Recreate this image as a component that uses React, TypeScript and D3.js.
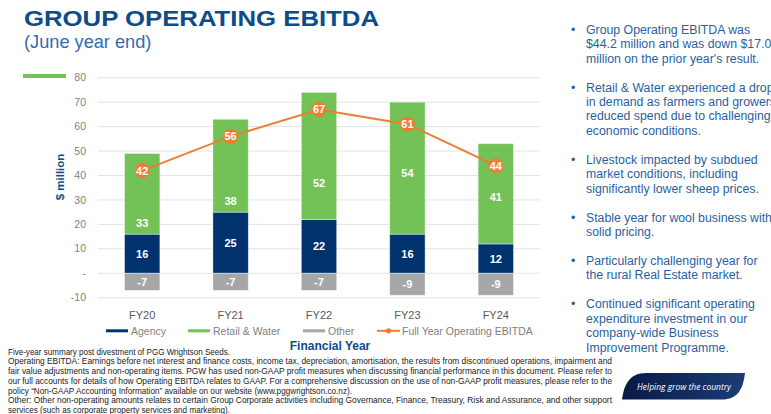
import React from "react";
import * as d3 from "d3";

const years = ["FY20", "FY21", "FY22", "FY23", "FY24"];
const agency = [16, 25, 22, 16, 12];
const retailWater = [33, 38, 52, 54, 41];
const other = [-7, -7, -7, -9, -9];
const ebitda = [42, 56, 67, 61, 44];
// value at which each Retail & Water data label sits
const retailLabelAt = [20.5, 29.7, 37, 41.2, 31.1];
const yTicks = [-10, 0, 10, 20, 30, 40, 50, 60, 70, 80];

const bullets = [
  ["Group Operating EBITDA was", "$44.2 million and was down $17.0", "million on the prior year's result."],
  ["Retail & Water experienced a drop", "in demand as farmers and growers", "reduced spend due to challenging", "economic conditions."],
  ["Livestock impacted by subdued", "market conditions, including", "significantly lower sheep prices."],
  ["Stable year for wool business with", "solid pricing."],
  ["Particularly challenging year for", "the rural Real Estate market."],
  ["Continued significant operating", "expenditure investment in our", "company-wide Business", "Improvement Programme."],
];

const footnotes = [
  "Five-year summary post divestment of PGG Wrightson Seeds.",
  "Operating EBITDA: Earnings before net interest and finance costs, income tax, depreciation, amortisation, the results from discontinued operations, impairment and",
  "fair value adjustments and non-operating items. PGW has used non-GAAP profit measures when discussing financial performance in this document. Please refer to",
  "our full accounts for details of how Operating EBITDA relates to GAAP. For a comprehensive discussion on the use of non-GAAP profit measures, please refer to the",
  "policy \u201cNon-GAAP Accounting Information\u201d available on our website (www.pggwrightson.co.nz).",
  "Other: Other non-operating amounts relates to certain Group Corporate activities including Governance, Finance, Treasury, Risk and Assurance, and other support",
  "services (such as corporate property services and marketing).",
];
const footWidths = [222, 604, 604, 604, 344, 604, 222];

const C_AGENCY = "#00326E";
const C_RETAIL = "#72C257";
const C_OTHER = "#A6A6A6";
const C_LINE = "#ED7D31";
const NAVY = "#0E4B8A";
const BLUE_TXT = "#2A5F9F";

export default function App() {
  const x = d3.scaleBand<string>().domain(years).range([98, 540]).paddingInner(0.6).paddingOuter(0.3);
  const y = d3.scaleLinear().domain([-10, 80]).range([297.7, 77.7]);
  const rows = years.map((yr, i) => ({ year: yr, agency: agency[i], retail: retailWater[i], other: other[i] }));
  const stack = d3.stack<any>().keys(["agency", "retail", "other"]).offset(d3.stackOffsetDiverging);
  const series = stack(rows);
  const colors: Record<string, string> = { agency: C_AGENCY, retail: C_RETAIL, other: C_OTHER };
  const bw = x.bandwidth();
  const cx = (i: number) => (x(years[i]) as number) + bw / 2;
  const line = d3.line<number>().x((_, i) => cx(i)).y((d) => y(d));

  const font = "'Liberation Sans', Arial, sans-serif";

  let by = 33.8;
  const bulletEls: any[] = [];
  bullets.forEach((b, bi) => {
    b.forEach((t, li) => {
      if (li === 0) {
        bulletEls.push(
          <text key={`b${bi}`} x={571} y={by} fill={BLUE_TXT} fontSize={12.3}>•</text>
        );
      }
      bulletEls.push(
        <text key={`t${bi}-${li}`} x={586} y={by} fill={BLUE_TXT} fontSize={12.3}>{t}</text>
      );
      by += 14.4;
    });
    by += 14.6;
  });

  return (
    <svg width={771} height={414} style={{ position: "absolute", left: 0, top: 0, background: "#fff" }} fontFamily={font}>
      <text x={24} y={26} fill={NAVY} fontSize={22.5} fontWeight={900} textLength={355} lengthAdjust="spacingAndGlyphs">GROUP OPERATING EBITDA</text>
      <text x={24} y={47.5} fill="#2F6DB3" fontSize={18.2}>(June year end)</text>
      <rect x={23} y={74} width={43} height={4} fill={C_RETAIL} />

      {yTicks.map((t) => (
        <g key={t}>
          <line x1={98} x2={540} y1={y(t)} y2={y(t)} stroke="#E3E3E3" strokeWidth={1} />
          <text x={86} y={y(t) + 3.6} textAnchor="end" fill="#7F7F7F" fontSize={10.5}>{t === 0 ? "-" : t}</text>
        </g>
      ))}

      <text transform={`translate(64,177) rotate(-90)`} textAnchor="middle" fill={NAVY} fontSize={11.5} fontWeight="bold">$ million</text>

      {series.map((s) => (
        <g key={s.key}>
          {s.map((d, i) => (
            <rect key={i} x={x(years[i])} width={bw} y={y(Math.max(d[0], d[1]))} height={Math.abs(y(d[0]) - y(d[1]))} fill={colors[s.key]} stroke="#ffffff" strokeOpacity={0.5} strokeWidth={0.8} />
          ))}
        </g>
      ))}

      {years.map((yr, i) => (
        <g key={yr} fill="#fff" fontSize={11} fontWeight="bold" textAnchor="middle">
          <text x={cx(i)} y={y(agency[i] / 2) + 4}>{agency[i]}</text>
          <text x={cx(i)} y={y(retailLabelAt[i]) + 4}>{retailWater[i]}</text>
          <text x={cx(i)} y={y(other[i] / 2) + 4}>{other[i]}</text>
        </g>
      ))}

      <path d={line(ebitda) || ""} fill="none" stroke={C_LINE} strokeWidth={2} />
      {ebitda.map((v, i) => (
        <g key={i}>
          <circle cx={cx(i)} cy={y(v)} r={7.5} fill={C_LINE} />
          <text x={cx(i)} y={y(v) + 4} textAnchor="middle" fill="#fff" fontSize={11} fontWeight="bold">{v}</text>
        </g>
      ))}

      {years.map((yr, i) => (
        <text key={yr} x={cx(i)} y={319} textAnchor="middle" fill="#595959" fontSize={11}>{yr}</text>
      ))}

      <g fontSize={10.5} fill="#7F7F7F">
        <rect x={106} y={329.3} width={22} height={3} fill={C_AGENCY} />
        <text x={131} y={334.5}>Agency</text>
        <rect x={188} y={329.3} width={22} height={3} fill={C_RETAIL} />
        <text x={213} y={334.5}>Retail &amp; Water</text>
        <rect x={303} y={329.3} width={22} height={3} fill={C_OTHER} />
        <text x={328} y={334.5}>Other</text>
        <line x1={377} x2={400} y1={330.8} y2={330.8} stroke={C_LINE} strokeWidth={2} />
        <circle cx={388.5} cy={330.8} r={2.6} fill={C_LINE} />
        <text x={402} y={334.5}>Full Year Operating EBITDA</text>
      </g>
      <text x={330} y={349.5} textAnchor="middle" fill={NAVY} fontSize={12} fontWeight="bold">Financial Year</text>

      {bulletEls}

      {footnotes.map((t, i) => (
        <text key={i} x={8} y={354.5 + i * 9.75} fill="#222" fontSize={8.6} fontFamily="'Liberation Sans Narrow', 'Liberation Sans', Arial, sans-serif" textLength={footWidths[i]} lengthAdjust="spacingAndGlyphs">{t}</text>
      ))}

      <defs>
        <linearGradient id="badge" x1="0" x2="1" y1="0" y2="0">
          <stop offset="0" stopColor="#081A45" />
          <stop offset="1" stopColor="#1B3C78" />
        </linearGradient>
      </defs>
      <path d="M622,399.5 C624,384 630,373 646,373 L745,373 C743,390 737,399.5 722,399.5 Z" fill="url(#badge)" />
      <text x={637} y={389.5} fill="#fff" fontSize={9.8} fontStyle="italic" fontFamily="'Open Sans', 'Liberation Sans', sans-serif" textLength={94} lengthAdjust="spacingAndGlyphs">Helping grow the country</text>
    </svg>
  );
}
